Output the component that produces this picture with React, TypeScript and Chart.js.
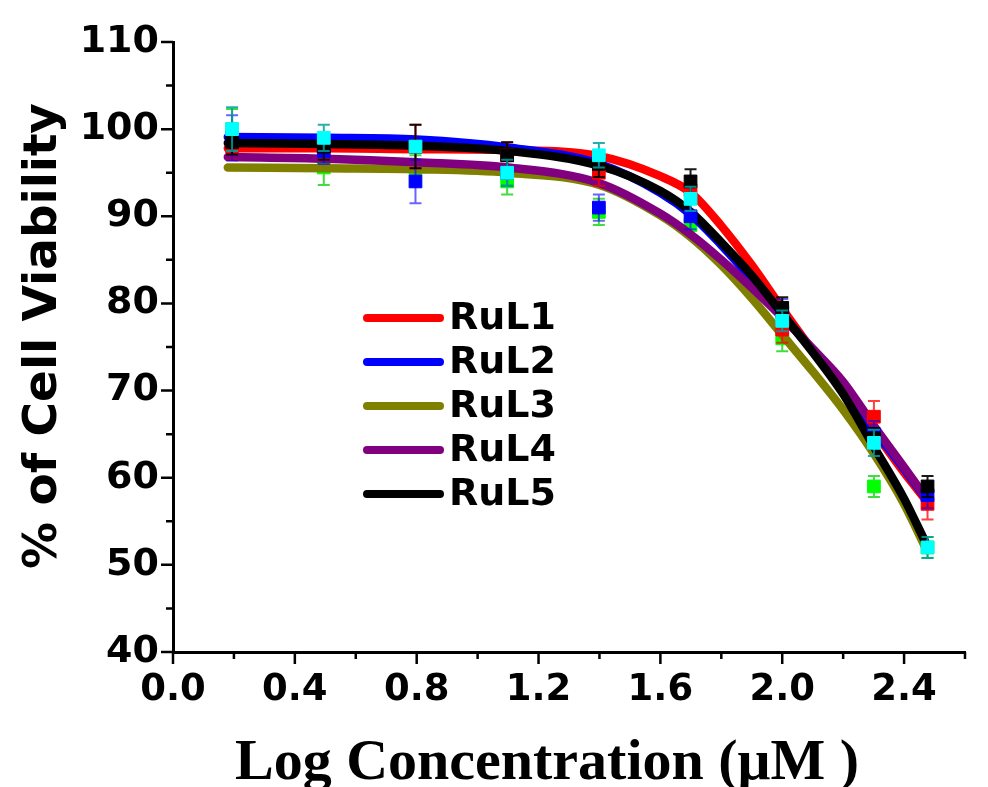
import React, { useEffect, useRef } from "react";
import { Chart, registerables } from "chart.js";
Chart.register(...registerables);

const seriesNames = ["RuL1", "RuL2", "RuL3", "RuL4", "RuL5"];
const lineColors = ["#FF0000", "#0000FF", "#808000", "#800080", "#000000"];
const markerColors = ["#FF0000", "#0000FF", "#00FF00", "#000000", "#00FFFF"];
const errorColors = [
  "rgba(255,0,0,0.75)",
  "rgba(0,0,255,0.6)",
  "rgba(0,210,0,0.75)",
  "rgba(0,0,0,0.9)",
  "rgba(0,160,160,0.85)",
];
// drawing order of marker sets (higher = drawn earlier)
const markerOrder = [14, 13, 20, 12, 11];

// measured points (log concentration)
const logConc = [0.194, 0.495, 0.796, 1.097, 1.398, 1.699, 2.0, 2.301, 2.477];
const rul1Mean = [98, 98, 98, 97, 95, 93, 77, 67, 57];
const rul2Mean = [99, 97.5, 94, 95, 91, 90, 79, 65, 58];
const rul3Mean = [100, 95.6, 95.5, 94, 90.5, 89, 76, 59, 52];
const rul4Mean = [98.5, 98, 98, 97, 96, 94, 79.5, 64.5, 59];
const rul5Mean = [100, 99, 98, 95, 97, 92, 78, 64, 52];
const rul1Err = [1.5, 1.5, 2.5, 1.5, 1.5, 1.5, 1.5, 1.8, 1.8];
const rul2Err = [2.6, 1.5, 2.5, 1.5, 1.5, 1.5, 1.5, 1.5, 1.5];
const rul3Err = [2.3, 2.0, 1.5, 1.5, 1.5, 1.2, 1.5, 1.2, 1.2];
const rul4Err = [1.4, 1.5, 2.5, 1.5, 1.5, 1.4, 1.2, 1.2, 1.2];
const rul5Err = [2.5, 1.5, 0.6, 1.5, 1.4, 1.4, 1.2, 1.5, 1.2];

// fitted curves
const fitX = [0.18, 0.5, 0.8, 1.1, 1.4, 1.6, 1.7, 1.8, 1.9, 2.0, 2.1, 2.2, 2.3, 2.4, 2.47];
const rul1Fit = [97.8, 97.8, 97.7, 97.6, 96.9, 94.6, 92.7, 88.9, 84.4, 79.4, 74.6, 70.3, 65.4, 60.6, 57.5];
const rul2Fit = [99.1, 99.0, 98.8, 97.9, 96.0, 92.7, 90.2, 86.7, 82.8, 78.7, 74.6, 70.5, 65.6, 61.0, 57.7];
const rul3Fit = [95.6, 95.5, 95.4, 95.0, 93.6, 90.1, 87.6, 84.4, 80.6, 76.4, 72.2, 67.8, 62.8, 57.0, 52.0];
const rul4Fit = [96.8, 96.6, 96.2, 95.6, 93.8, 90.3, 87.9, 85.0, 81.8, 78.4, 74.8, 71.0, 66.0, 61.2, 57.8];
const rul5Fit = [98.4, 98.3, 98.1, 97.5, 95.8, 92.9, 90.5, 87.0, 83.2, 78.8, 74.4, 69.6, 63.6, 57.6, 52.6];

const xMajorTicks = [0, 0.4, 0.8, 1.2, 1.6, 2.0, 2.4];
const xMinorTicks = [0.2, 0.6, 1.0, 1.4, 1.8, 2.2, 2.6];
const yMajorTicks = [40, 50, 60, 70, 80, 90, 100, 110];
const yMinorTicks = [45, 55, 65, 75, 85, 95, 105];

const xTitle = "Log Concentration (\u03BCM )";
const yTitle = "% of Cell Viability";

const means = [rul1Mean, rul2Mean, rul3Mean, rul4Mean, rul5Mean];
const errs = [rul1Err, rul2Err, rul3Err, rul4Err, rul5Err];
const fits = [rul1Fit, rul2Fit, rul3Fit, rul4Fit, rul5Fit];

const errorBarPlugin = {
  id: "errorBars",
  beforeDatasetDraw(chart: any, args: any) {
    const ds = chart.data.datasets[args.index];
    if (!ds.errors) return;
    const xs = chart.scales.x;
    const ys = chart.scales.y;
    const ctx = chart.ctx;
    ctx.save();
    ctx.strokeStyle = ds.errorColor;
    ctx.lineWidth = 2;
    ds.data.forEach((p: any, i: number) => {
      const px = xs.getPixelForValue(p.x);
      const top = ys.getPixelForValue(p.y + ds.errors[i]);
      const bot = ys.getPixelForValue(p.y - ds.errors[i]);
      ctx.beginPath();
      ctx.moveTo(px, top);
      ctx.lineTo(px, bot);
      ctx.moveTo(px - 6, top);
      ctx.lineTo(px + 6, top);
      ctx.moveTo(px - 6, bot);
      ctx.lineTo(px + 6, bot);
      ctx.stroke();
    });
    ctx.restore();
  },
};

const tickMarkPlugin = {
  id: "tickMarks",
  afterDraw(chart: any) {
    const ctx = chart.ctx;
    const xs = chart.scales.x;
    const ys = chart.scales.y;
    const area = chart.chartArea;
    ctx.save();
    ctx.strokeStyle = "#000";
    ctx.lineWidth = 2.5;
    ctx.beginPath();
    xMajorTicks.forEach((v) => {
      const px = xs.getPixelForValue(v);
      ctx.moveTo(px, area.bottom);
      ctx.lineTo(px, area.bottom + 12);
    });
    xMinorTicks.forEach((v) => {
      const px = xs.getPixelForValue(v);
      ctx.moveTo(px, area.bottom);
      ctx.lineTo(px, area.bottom + 7);
    });
    yMajorTicks.forEach((v) => {
      const py = ys.getPixelForValue(v);
      ctx.moveTo(area.left, py);
      ctx.lineTo(area.left - 12, py);
    });
    yMinorTicks.forEach((v) => {
      const py = ys.getPixelForValue(v);
      ctx.moveTo(area.left, py);
      ctx.lineTo(area.left - 7, py);
    });
    ctx.stroke();
    // axis titles
    ctx.fillStyle = "#000";
    ctx.textAlign = "center";
    ctx.textBaseline = "alphabetic";
    ctx.font = "bold 58px 'Liberation Serif', 'Times New Roman', serif";
    ctx.fillText(xTitle, 547, 779);
    ctx.save();
    ctx.translate(56, 336);
    ctx.rotate(-Math.PI / 2);
    ctx.font = "bold 47px 'DejaVu Sans'";
    ctx.fillText(yTitle, 0, 0);
    ctx.restore();
    ctx.restore();
  },
};

const legendPlugin = {
  id: "customLegend",
  afterDraw(chart: any) {
    const ctx = chart.ctx;
    const lines = chart.data.datasets.filter((d: any) => d.isFit);
    ctx.save();
    ctx.font = "bold 38px 'DejaVu Sans'";
    ctx.textBaseline = "middle";
    ctx.fillStyle = "#000";
    lines.forEach((d: any, i: number) => {
      const y = 318 + i * 44;
      ctx.strokeStyle = d.borderColor;
      ctx.lineWidth = 8;
      ctx.lineCap = "round";
      ctx.beginPath();
      ctx.moveTo(367, y);
      ctx.lineTo(440, y);
      ctx.stroke();
      ctx.fillText(d.label, 449, y + 1);
    });
    ctx.restore();
  },
};

export default function App() {
  const ref = useRef<HTMLCanvasElement>(null);
  useEffect(() => {
    const fitSets = seriesNames.map((name, s) => ({
      type: "line",
      label: name,
      isFit: true,
      data: fitX.map((x, i) => ({ x, y: fits[s][i] })),
      borderColor: lineColors[s],
      backgroundColor: lineColors[s],
      borderWidth: 8.5,
      borderCapStyle: "round",
      pointRadius: 0,
      cubicInterpolationMode: "monotone",
      fill: false,
      order: 19 - s,
    }));
    const pointSets = seriesNames.map((name, s) => ({
      type: "scatter",
      label: name + " data",
      data: logConc.map((x, i) => ({ x, y: means[s][i] })),
      errors: errs[s],
      errorColor: errorColors[s],
      backgroundColor: markerColors[s],
      borderColor: markerColors[s],
      borderWidth: 1,
      pointStyle: "rect",
      pointRadius: 9,
      showLine: false,
      order: markerOrder[s],
    }));
    const chart = new Chart(ref.current as HTMLCanvasElement, {
      type: "scatter",
      data: { datasets: [...fitSets, ...pointSets] as any },
      plugins: [errorBarPlugin, tickMarkPlugin, legendPlugin],
      options: {
        animation: false,
        responsive: false,
        devicePixelRatio: 1,
        layout: { padding: { top: 42, right: 23, left: 0, bottom: 0 } },
        plugins: { legend: { display: false }, tooltip: { enabled: false } },
        scales: {
          x: {
            type: "linear",
            min: 0,
            max: 2.6,
            grid: { display: false, drawTicks: false },
            border: { display: true, width: 3, color: "#000" },
            afterFit: (scale: any) => {
              scale.height = 135;
            },
            ticks: {
              stepSize: 0.4,
              includeBounds: false,
              padding: 16,
              color: "#000",
              font: { family: "'DejaVu Sans'", weight: "bold", size: 37 },
              callback: (v: any) => Number(v).toFixed(1),
              maxRotation: 0,
            },
            title: { display: false },
          },
          y: {
            type: "linear",
            min: 40,
            max: 110,
            grid: { display: false, drawTicks: false },
            border: { display: true, width: 3, color: "#000" },
            afterFit: (scale: any) => {
              scale.width = 173;
            },
            ticks: {
              stepSize: 10,
              padding: 14,
              color: "#000",
              font: { family: "'DejaVu Sans'", weight: "bold", size: 38 },
            },
            title: { display: false },
          },
        },
      } as any,
    });
    return () => chart.destroy();
  }, []);
  return (
    <div style={{ position: "absolute", left: 0, top: 0, width: 988, height: 787, background: "#fff" }}>
      <canvas ref={ref} width={988} height={787} style={{ display: "block", width: 988, height: 787 }} />
    </div>
  );
}
